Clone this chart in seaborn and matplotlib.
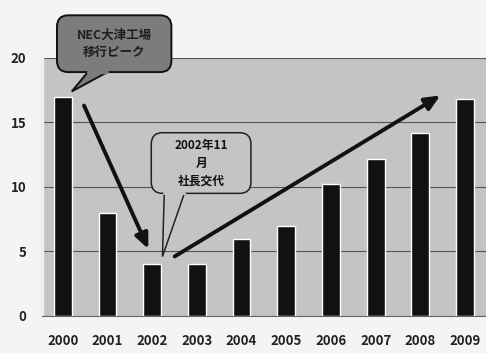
import matplotlib
matplotlib.use("Agg")
import matplotlib.pyplot as plt
from matplotlib.patches import FancyBboxPatch, Polygon
import seaborn as sns

# chart data
years = ["2000", "2001", "2002", "2003", "2004", "2005", "2006", "2007", "2008", "2009"]
values = [17.0, 8.0, 4.0, 4.0, 6.0, 7.0, 10.2, 12.2, 14.2, 16.8]
y_ticks = [0, 5, 10, 15, 20]
note_peak = "NEC大津工場\n移行ピーク"
note_ceo = "2002年11\n月\n社長交代"

sns.set_style("white")
plt.rcParams["font.family"] = ["Noto Sans CJK JP", "DejaVu Sans"]

fig = plt.figure(figsize=(4.86, 3.53), dpi=100)
fig.patch.set_facecolor("#f4f4f4")
ax = fig.add_axes([0.086, 0.105, 0.914, 0.731])
ax.set_facecolor("#c4c4c4")

sns.barplot(x=years, y=values, color="#111111", width=0.4,
            saturation=1, ax=ax, zorder=3)

ax.set_ylim(0, 20)
ax.set_xlim(-0.47, 9.47)
ax.set_yticks(y_ticks)
ax.yaxis.grid(True, color="#555555", linewidth=0.8, zorder=1)
ax.set_axisbelow(True)
ax.set_xlabel("")
ax.set_ylabel("")
for s in ["top", "right"]:
    ax.spines[s].set_visible(False)
ax.spines["left"].set_color("#eeeeee")
ax.spines["left"].set_linewidth(2.5)
ax.spines["bottom"].set_color("#666666")
ax.tick_params(axis="y", length=3, color="#666666", pad=8)
ax.tick_params(axis="x", length=0, pad=13)
for lab in ax.get_xticklabels() + ax.get_yticklabels():
    lab.set_fontweight("bold")
    lab.set_fontsize(9.5)
    lab.set_color("#222222")

# trend arrows
arrow_style = "-|>,head_length=0.9,head_width=0.4"
ax.annotate("", xy=(1.94, 5.0), xytext=(0.45, 16.5),
            arrowprops=dict(arrowstyle=arrow_style, color="#111111", lw=2.8),
            zorder=5)
ax.annotate("", xy=(8.5, 17.2), xytext=(2.45, 4.5),
            arrowprops=dict(arrowstyle=arrow_style, color="#111111", lw=2.8),
            zorder=5)

# speech bubbles (box + tail, in data units; aspect keeps corners round)
aspect = 44.9 / 12.9


def bubble(x0, y0, x1, y1, tail, fc, ec, lw):
    box = FancyBboxPatch((x0, y0), x1 - x0, y1 - y0,
                         boxstyle="round,pad=0,rounding_size=0.25",
                         mutation_aspect=aspect, fc=fc, ec=ec, lw=lw,
                         clip_on=False, zorder=6)
    ax.add_patch(box)
    tri = Polygon(tail, closed=False, fc=fc, ec=ec, lw=lw,
                  clip_on=False, zorder=7)
    ax.add_patch(tri)
    # cover the box border under the tail base
    ax.plot([tail[0][0], tail[2][0]], [tail[0][1], tail[2][1]],
            color=fc, lw=lw + 1, clip_on=False, zorder=7.5)


bubble(-0.13, 18.9, 2.43, 23.3,
       [(0.56, 18.9), (0.2, 17.4), (1.0, 18.9)],
       "#7c7c7c", "#111111", 1.4)
ax.text(1.15, 21.1, note_peak, ha="center", va="center", fontsize=9,
        color="#1e1e1e", fontweight="bold", linespacing=1.35, zorder=8)

bubble(1.98, 9.5, 4.21, 14.2,
       [(2.27, 9.5), (2.23, 4.6), (2.72, 9.5)],
       "#c4c4c4", "#222222", 1.1)
ax.text(3.1, 11.85, note_ceo, ha="center", va="center", fontsize=8.5,
        color="#111111", fontweight="bold", linespacing=1.5, zorder=8)

plt.savefig("out.png", dpi=100, facecolor=fig.get_facecolor())
